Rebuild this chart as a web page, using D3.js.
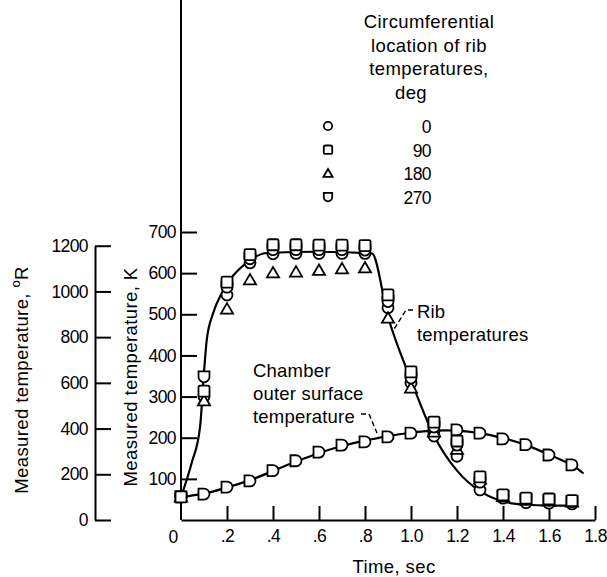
<!DOCTYPE html>
<html>
<head>
<meta charset="utf-8">
<script src="https://cdn.jsdelivr.net/npm/d3@7"></script>
<style>
  body { margin: 0; background: #fff; }
  svg { font-family: "Liberation Sans", Arial, sans-serif; }
</style>
</head>
<body>
<div id="chart"></div>
<script>
// time of each measurement, sec
const times = [0, 0.1, 0.2, 0.3, 0.4, 0.5, 0.6, 0.7, 0.8, 0.9, 1.0, 1.1, 1.2, 1.3, 1.4, 1.5, 1.6, 1.7];

// rib temperatures, K, by circumferential location
const rib0 = [56, 300, 547, 625, 647, 648, 648, 648, 648, 516, 333, 204, 155, 73, 53, 42, 41, 39];
const rib90 = [56, 313, 578, 645, 669, 669, 668, 668, 667, 547, 360, 238, 192, 105, 61, 53, 51, 47];
const rib180 = [56, 290, 513, 584, 601, 603, 607, 611, 613, 491, 321, 214, 172, 100, 57, 49, 47, 44];
const rib270 = [56, 348, 566, 635, 657, 657, 657, 657, 656, 531, 345, 226, 182, 92, 58, 50, 48, 45];

// chamber outer surface, K
const outerK = [56, 63, 80, 95, 120, 144, 165, 182, 190, 202, 211, 217, 219, 211, 197, 183, 158, 134];

// faired curves
const ribCurveT = [0, 0.046, 0.083, 0.1, 0.112, 0.14, 0.177, 0.213, 0.285, 0.373, 0.6, 0.83, 0.9, 1.0, 1.1, 1.2, 1.3, 1.4, 1.5, 1.6, 1.7];
const ribCurveK = [56, 138, 227, 360, 438, 503, 551, 584, 625, 649, 652, 648, 494, 340, 205, 120, 70, 45, 37, 35, 35];
const outerCurveT = [0, 0.1, 0.2, 0.3, 0.4, 0.5, 0.6, 0.7, 0.8, 0.9, 1.0, 1.1, 1.2, 1.3, 1.4, 1.5, 1.6, 1.7, 1.75];
const outerCurveK = [56, 64, 79, 97, 119, 142, 163, 180, 193, 204, 212, 217, 217, 211, 199, 182, 159, 133, 113];

// axes
const xTicks = [0.2, 0.4, 0.6, 0.8, 1.0, 1.2, 1.4, 1.6, 1.8];
const xTickLabels = [".2", ".4", ".6", ".8", "1.0", "1.2", "1.4", "1.6", "1.8"];
const kTicks = [100, 200, 300, 400, 500, 600, 700];
const rTicks = [0, 200, 400, 600, 800, 1000, 1200];

const legendTitle = ["Circumferential", "location of rib", "temperatures,", "deg"];
const legendDeg = ["0", "90", "180", "270"];

const width = 607, height = 577;

const svg = d3.select('#chart').append('svg')
    .attr('width', width)
    .attr('height', height);

const x = d3.scaleLinear().domain([0, 1.8]).range([181, 595]);
const yK = d3.scaleLinear().domain([0, 700]).range([520, 232]);
const yR = d3.scaleLinear().domain([0, 1200]).range([yK(0), yK(1200 / 1.8)]);

// marker shapes
const sym = {
    circle: r => `M${r},0A${r},${r} 0 1 1 ${-r},0A${r},${r} 0 1 1 ${r},0Z`,
    square: r => `M${-r + 1.5},${-r}H${r - 1.5}Q${r},${-r} ${r},${-r + 1.5}V${r - 1.5}Q${r},${r} ${r - 1.5},${r}H${-r + 1.5}Q${-r},${r} ${-r},${r - 1.5}V${-r + 1.5}Q${-r},${-r} ${-r + 1.5},${-r}Z`,
    triangle: r => `M0,${-r * 1.05}L${r * 1.1},${r * 0.85}L${-r * 1.1},${r * 0.85}Z`,
    shield: r => `M${-r},${-r}H${r}V0A${r},${r} 0 0 1 ${-r},0Z`,
    dee: r => `M${-r},${-r}H0A${r},${r} 0 0 1 0,${r}H${-r}Z`
};

// axes
svg.append('line')
    .attr('x1', x(0)).attr('x2', x(0))
    .attr('y1', 0).attr('y2', yK(0))
    .attr('stroke', '#000').attr('stroke-width', 2);

const kAxis = svg.append('g')
    .attr('transform', `translate(${x(0)},0)`)
    .call(d3.axisLeft(yK).tickValues(kTicks).tickSizeInner(-16).tickSizeOuter(0).tickPadding(5)
        .tickFormat(d3.format('d')));
kAxis.select('.domain').remove();

svg.append('g')
    .attr('transform', 'translate(95,0)')
    .call(d3.axisLeft(yR).tickValues(rTicks).tickSizeInner(-16).tickSizeOuter(0).tickPadding(7)
        .tickFormat(d3.format('d')));

svg.append('g')
    .attr('transform', `translate(0,${yK(0)})`)
    .call(d3.axisBottom(x).tickValues(xTicks).tickSizeInner(-14).tickSizeOuter(0).tickPadding(10)
        .tickFormat((d, i) => xTickLabels[i]));

svg.append('text')
    .attr('x', x(0) - 8).attr('y', yK(0) + 23)
    .attr('text-anchor', 'middle')
    .attr('class', 'num')
    .text('0');

svg.selectAll('.domain, .tick line').attr('stroke', '#000').attr('stroke-width', 2);
svg.selectAll('.tick text, .num')
    .attr('fill', '#000')
    .style('font-family', '"Liberation Sans", Arial, sans-serif')
    .style('font-size', '17.5px')
    .style('letter-spacing', '-0.6px');

// axis titles
svg.append('text')
    .attr('transform', 'translate(137,377) rotate(-90)')
    .attr('text-anchor', 'middle')
    .style('font-size', '18.5px').style('letter-spacing', '0.4px')
    .text('Measured temperature, K');

const rTitle = svg.append('text')
    .attr('transform', 'translate(28,380) rotate(-90)')
    .attr('text-anchor', 'middle')
    .style('font-size', '18.5px').style('letter-spacing', '0.4px');
rTitle.append('tspan').text('Measured temperature, ');
rTitle.append('tspan').attr('dy', -8).style('font-size', '13px').text('o');
rTitle.append('tspan').attr('dy', 8).text('R');

svg.append('text')
    .attr('x', 394).attr('y', 573)
    .attr('text-anchor', 'middle')
    .style('font-size', '18.5px').style('letter-spacing', '0.4px')
    .text('Time, sec');

// curves
svg.append('path')
    .attr('d', d3.line().curve(d3.curveMonotoneX)(ribCurveT.map((t, i) => [x(t), yK(ribCurveK[i])])))
    .attr('fill', 'none').attr('stroke', '#000').attr('stroke-width', 2.2);
svg.append('path')
    .attr('d', d3.line().curve(d3.curveCatmullRom)(outerCurveT.map((t, i) => [x(t), yK(outerCurveK[i])])))
    .attr('fill', 'none').attr('stroke', '#000').attr('stroke-width', 2.2);

// data markers
function drawMarkers(values, shape, r) {
    svg.append('g').selectAll('path')
        .data(values)
        .join('path')
        .attr('transform', (d, i) => `translate(${x(times[i])},${yK(d)})`)
        .attr('d', sym[shape](r))
        .attr('fill', '#fff')
        .attr('stroke', '#000')
        .attr('stroke-width', 1.8);
}
drawMarkers(outerK, 'dee', 5.5);
drawMarkers(rib0, 'circle', 5.5);
drawMarkers(rib180, 'triangle', 5.5);
drawMarkers(rib270, 'shield', 5.5);
drawMarkers(rib90, 'square', 5.5);

// annotations
const labelText = (lines, x0, y0, dy) => {
    lines.forEach((s, i) => {
        svg.append('text')
            .attr('x', x0).attr('y', y0 + i * dy)
            .style('font-size', '18.5px').style('letter-spacing', '0.2px')
            .text(s);
    });
};
labelText(['Rib', 'temperatures'], 417, 318, 23);
labelText(['Chamber', 'outer surface', 'temperature'], 253, 377, 23);

svg.append('path')
    .attr('d', 'M413,310L406,310L393,331')
    .attr('fill', 'none').attr('stroke', '#000').attr('stroke-width', 1.4)
    .attr('stroke-dasharray', '5,3');
svg.append('path')
    .attr('d', 'M361,414L369,414L377,433')
    .attr('fill', 'none').attr('stroke', '#000').attr('stroke-width', 1.4)
    .attr('stroke-dasharray', '5,3');

// legend
legendTitle.forEach((s, i) => {
    svg.append('text')
        .attr('x', i < 3 ? 429 : 411).attr('y', 28 + i * 23.5)
        .attr('text-anchor', 'middle')
        .style('font-size', '18.5px').style('letter-spacing', '0.4px')
        .text(s);
});
const legendShapes = ['circle', 'square', 'triangle', 'shield'];
legendDeg.forEach((s, i) => {
    const yy = 133 + i * 23.7;
    svg.append('path')
        .attr('transform', `translate(328,${yy - 7})`)
        .attr('d', sym[legendShapes[i]](4.2))
        .attr('fill', '#fff').attr('stroke', '#000').attr('stroke-width', 1.8);
    svg.append('text')
        .attr('x', 431).attr('y', yy)
        .attr('text-anchor', 'end')
        .style('font-size', '17.5px').style('letter-spacing', '-0.6px')
        .text(s);
});
</script>
</body>
</html>
